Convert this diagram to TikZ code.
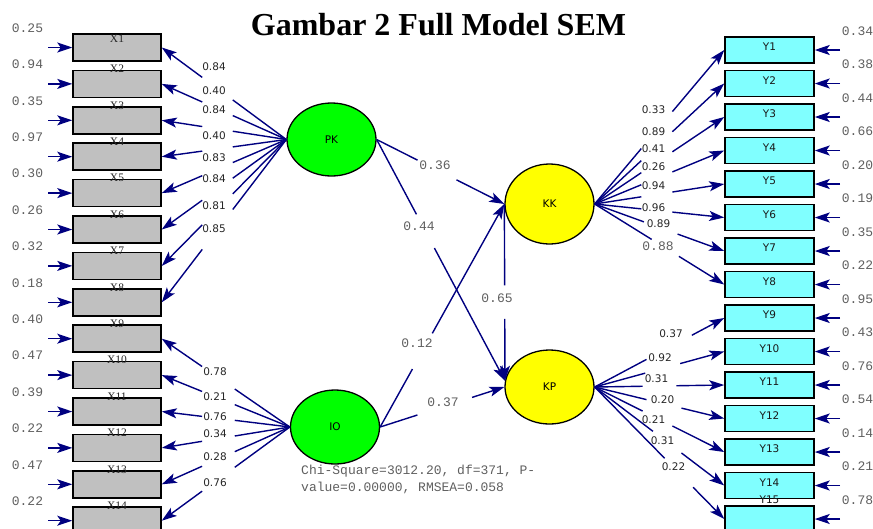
\documentclass[tikz,border=0pt]{standalone}
\usepackage{fontspec}
\setmainfont{Liberation Serif}
\newfontfamily\tahoma{DejaVu Sans}
\newfontfamily\courier{Liberation Mono}
\usetikzlibrary{arrows.meta,positioning,calc,shapes.geometric}

\definecolor{navy}{RGB}{0,0,128}
\definecolor{boxgray}{RGB}{192,192,192}
\definecolor{lvgreen}{RGB}{0,255,0}
\definecolor{lvyellow}{RGB}{255,255,0}
\definecolor{obscyan}{RGB}{128,255,255}
\definecolor{valgray}{RGB}{95,95,95}

\tikzset{
  xbox/.style={draw, line width=1.5pt, fill=boxgray, minimum width=88pt, minimum height=27pt, inner sep=0pt},
  ybox/.style={draw, line width=1.5pt, fill=obscyan, minimum width=89pt, minimum height=26pt, inner sep=0pt},
  latent/.style={ellipse, draw, line width=1.3pt, inner sep=0pt, minimum width=89pt, font=\tahoma\fontsize{10.5}{11}\selectfont},
  link/.style={navy, line width=1.4pt},
  larr/.style={link, -{Stealth[length=15pt,width=10pt,inset=3.5pt]}},
  xlab/.style={inner sep=0pt, text=black!85, font=\fontsize{11.5}{12}\selectfont},
  ylab/.style={inner sep=0pt, text=black!90, font=\tahoma\fontsize{10.5}{11}\selectfont},
  load/.style={inner sep=0pt, text=black!85, font=\tahoma\fontsize{10.5}{12}\selectfont},
  valmono/.style={inner sep=0pt, text=valgray, font=\courier\fontsize{13}{14}\selectfont}
}

\begin{document}
\begin{tikzpicture}[x=1pt, y=-1pt]
    \clip (0,0) rectangle (873,528);
    % Title
    \node[anchor=base, font=\bfseries\fontsize{32}{36}\selectfont] (title) at (438.5,35) {Gambar 2 Full Model SEM};

    % Latent variables
    \node[latent, fill=lvgreen, minimum height=73pt] (PK) at (331.5,139.5) {PK};
    \node[latent, fill=lvgreen, minimum height=74pt] (IO) at (335,427) {IO};
    \node[latent, fill=lvyellow, minimum height=80pt] (KK) at (549.5,204) {KK};
    \node[latent, fill=lvyellow, minimum height=74pt] (KP) at (549.5,387) {KP};

    % X indicators with error terms
    \foreach \i/\e in {1/0.25,2/0.94,3/0.35,4/0.97,5/0.30,6/0.26,7/0.32,8/0.18,9/0.40,10/0.47,11/0.39,12/0.22,13/0.47,14/0.22} {
      \pgfmathsetmacro{\yy}{47.5+(\i-1)*36.4}
      \node[xbox] (X\i) at (117,\yy) {};
      \ifnum\i=1
        \node[xlab, yshift=8.5pt] (xl\i) at (X\i.center) {X\i};
      \else
        \node[xlab, yshift=15pt] (xl\i) at (X\i.center) {X\i};
      \fi
      \coordinate (eX\i) at (48,\yy);
      \draw[larr] (eX\i) -- (X\i.west);
      \node[valmono] (ex\i) at (27.5,\yy-19.5) {\e};
    }

    % Y indicators with error terms
    \foreach \j/\e in {1/0.34,2/0.38,3/0.44,4/0.66,5/0.20,6/0.19,7/0.35,8/0.22,9/0.95,10/0.43,11/0.76,12/0.54,13/0.14,14/0.21,15/0.78} {
      \pgfmathsetmacro{\yy}{50+(\j-1)*33.5}
      \node[ybox] (Y\j) at (769.5,\yy) {};
      \ifnum\j=15
        \node[ylab, yshift=19pt] (yl\j) at (Y\j.center) {Y\j};
      \else
        \node[ylab, yshift=3pt] (yl\j) at (Y\j.center) {Y\j};
      \fi
      \coordinate (eY\j) at (840,\yy);
      \draw[larr] (eY\j) -- (Y\j.east);
      \node[valmono] (ey\j) at (857.5,\yy-19) {\e};
    }

    % Loadings PK
    \foreach \i/\v/\ly in {1/0.84/67,2/0.40/91,3/0.84/110,4/0.40/136,5/0.83/158,6/0.84/179,7/0.81/206,8/0.85/229} {
      \draw[link] (PK.west) -- ($(PK.west)!0.43!(X\i.east)$);
      \draw[larr] ($(PK.west)!0.675!(X\i.east)$) -- (X\i.east);
      \node[load] (lx\i) at (214,\ly) {\v};
    }
    % Loadings IO
    \foreach \i/\v/\ly in {9/0.78/372,10/0.21/397,11/0.76/417,12/0.34/434,13/0.28/457,14/0.76/483} {
      \draw[link] (IO.west) -- ($(IO.west)!0.43!(X\i.east)$);
      \draw[larr] ($(IO.west)!0.685!(X\i.east)$) -- (X\i.east);
      \node[load] (lx\i) at (215,\ly) {\v};
    }
    % Loadings KK
    \foreach \j/\v/\lx/\ly/\a/\b/\st in {1/0.33/653.5/110/0.36/0.60/load,2/0.89/653.5/132/0.36/0.60/load,
        3/0.41/653.5/149/0.36/0.60/load,4/0.26/653.5/167/0.36/0.60/load,5/0.94/653.5/186/0.36/0.60/load,
        6/0.96/653.5/208/0.36/0.60/load,7/0.89/658.5/224/0.38/0.64/load,8/0.88/658/246/0.44/0.65/valmono} {
      \draw[link] (KK.east) -- ($(KK.east)!\a!(Y\j.west)$);
      \draw[larr] ($(KK.east)!\b!(Y\j.west)$) -- (Y\j.west);
      \node[\st] (ly\j) at (\lx,\ly) {\v};
    }
    % Loadings KP
    \foreach \j/\v/\lx/\ly/\a/\b in {9/0.37/671/334/0.40/0.75,10/0.92/660/358/0.39/0.66,11/0.31/656.5/379/0.37/0.63,
        12/0.20/662.5/400/0.40/0.67,13/0.21/653.5/420/0.37/0.60,14/0.31/662.5/441/0.45/0.67,15/0.22/673.5/467/0.54/0.76} {
      \draw[link] (KP.east) -- ($(KP.east)!\a!(Y\j.west)$);
      \draw[larr] ($(KP.east)!\b!(Y\j.west)$) -- (Y\j.west);
      \node[load] (ly\j) at (\lx,\ly) {\v};
    }

    % Structural paths
    \draw[link] (PK.east) -- ($(PK.east)!0.32!(KK.west)$);
    \draw[larr] ($(PK.east)!0.625!(KK.west)$) -- (KK.west);
    \node[valmono] (b1) at (435,165) {0.36};
    \draw[link] (PK.east) -- ($(PK.east)!0.31!(KP.172)$);
    \draw[larr] ($(PK.east)!0.45!(KP.172)$) -- (KP.172);
    \node[valmono] (b2) at (419,226) {0.44};
    \draw[link] (IO.east) -- ($(IO.east)!0.26!(KK.west)$);
    \draw[larr] ($(IO.east)!0.42!(KK.west)$) -- (KK.west);
    \node[valmono] (b3) at (417,343) {0.12};
    \draw[link] (IO.east) -- ($(IO.east)!0.30!(KP.west)$);
    \draw[larr] ($(IO.east)!0.74!(KP.west)$) -- (KP.west);
    \node[valmono] (b4) at (443,402) {0.37};
    \draw[link] (KK.west) -- ($(KK.west)!0.46!(KP.172)$);
    \draw[larr] ($(KK.west)!0.65!(KP.172)$) -- (KP.172);
    \node[valmono] (b5) at (497,298) {0.65};

    % Fit statistics
    \node[valmono, anchor=base west, align=left, font=\courier\fontsize{13}{17}\selectfont] (fit) at (301,491)
      {Chi-Square=3012.20, df=371, P-\\value=0.00000, RMSEA=0.058};
\end{tikzpicture}
\end{document}
